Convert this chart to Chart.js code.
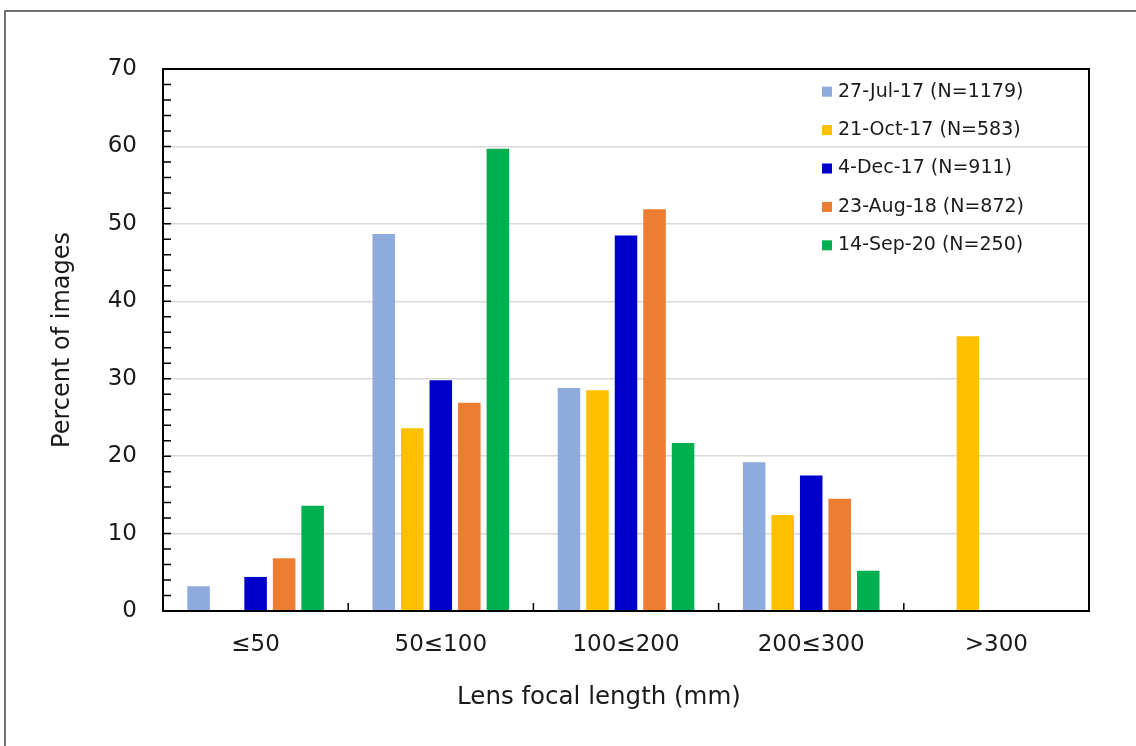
<!DOCTYPE html>
<html>
<head>
<meta charset="utf-8">
<script src="https://cdn.jsdelivr.net/npm/chart.js@4"></script>
<style>
  body { margin: 0; background: #fff; }
  canvas { display: block; }
</style>
</head>
<body>
<canvas id="lensChart" width="1136" height="746"></canvas>
<script>
const categories = ['≤50', '50≤100', '100≤200', '200≤300', '>300'];
const seriesLabels = ['27-Jul-17 (N=1179)', '21-Oct-17 (N=583)', '4-Dec-17 (N=911)', '23-Aug-18 (N=872)', '14-Sep-20 (N=250)'];
const jul17 = [3.2, 48.7, 28.8, 19.2, 0];
const oct17 = [0, 23.6, 28.5, 12.4, 35.5];
const dec17 = [4.4, 29.8, 48.5, 17.5, 0];
const aug18 = [6.8, 26.9, 51.9, 14.5, 0];
const sep20 = [13.6, 59.7, 21.7, 5.2, 0];
const yTicks = [0, 10, 20, 30, 40, 50, 60, 70];
const xTitle = 'Lens focal length (mm)';

const colors = ['#8FAADC', '#FFC000', '#0000CC', '#ED7D31', '#00B050'];

Chart.defaults.font.family = 'DejaVu Sans';
Chart.defaults.color = '#1a1a1a';

// frame, inward ticks, plot border, x title and the legend inside the plot
const decorations = {
    id: 'decorations',
    beforeDraw(chart) {
        const ctx = chart.ctx;
        ctx.save();
        ctx.fillStyle = '#fff';
        ctx.fillRect(0, 0, chart.width, chart.height);
        ctx.strokeStyle = '#444';
        ctx.lineWidth = 1.5;
        ctx.beginPath();
        ctx.moveTo(5, chart.height);
        ctx.lineTo(5, 11);
        ctx.lineTo(chart.width, 11);
        ctx.stroke();
        ctx.restore();
    },
    afterDraw(chart) {
        const ctx = chart.ctx;
        const a = chart.chartArea;
        const x = chart.scales.x;
        const y = chart.scales.y;
        ctx.save();
        ctx.strokeStyle = '#000';
        ctx.lineWidth = 1.5;
        ctx.beginPath();
        for (let v = 0; v <= 70; v += 2) {
            const py = y.getPixelForValue(v);
            ctx.moveTo(a.left, py);
            ctx.lineTo(a.left + 8, py);
        }
        for (let i = 0; i < categories.length - 1; i++) {
            const px = (x.getPixelForTick(i) + x.getPixelForTick(i + 1)) / 2;
            ctx.moveTo(px, a.bottom);
            ctx.lineTo(px, a.bottom - 8);
        }
        ctx.stroke();
        ctx.lineWidth = 2;
        ctx.strokeRect(a.left, a.top, a.right - a.left, a.bottom - a.top);

        ctx.fillStyle = '#1a1a1a';
        ctx.textAlign = 'center';
        ctx.textBaseline = 'middle';
        ctx.font = '24.5px "DejaVu Sans"';
        ctx.fillText(xTitle, (a.left + a.right) / 2 - 27, 698);

        ctx.font = '19px "DejaVu Sans"';
        ctx.textAlign = 'left';
        const lx = a.right - 267;
        chart.data.datasets.forEach((ds, i) => {
            const cy = a.top + 22.7 + i * 38.4;
            ctx.fillStyle = ds.backgroundColor;
            ctx.fillRect(lx, cy - 5, 10, 10);
            ctx.fillStyle = '#1a1a1a';
            ctx.fillText(ds.label, lx + 16, cy);
        });
        ctx.restore();
    }
};

const seriesData = [jul17, oct17, dec17, aug18, sep20];

new Chart(document.getElementById('lensChart'), {
    type: 'bar',
    data: {
        labels: categories,
        datasets: seriesData.map((d, i) => ({
            label: seriesLabels[i],
            data: d,
            backgroundColor: colors[i],
            categoryPercentage: 0.77,
            barPercentage: 0.79
        }))
    },
    options: {
        responsive: false,
        animation: false,
        layout: { padding: { top: 69, right: 47, left: 0, bottom: 0 } },
        plugins: { legend: { display: false }, tooltip: { enabled: false } },
        scales: {
            x: {
                grid: { display: false, drawTicks: false },
                border: { display: false },
                ticks: { font: { size: 23 }, padding: 20 },
                afterFit(scale) { scale.height = 135; }
            },
            y: {
                min: 0,
                max: 70,
                afterBuildTicks(scale) { scale.ticks = yTicks.map(v => ({ value: v })); },
                grid: { color: '#D9D9D9', lineWidth: 1.5, drawTicks: false },
                border: { display: false },
                ticks: { font: { size: 23 }, padding: 26 },
                title: {
                    display: true,
                    text: 'Percent of images',
                    font: { size: 24 },
                    padding: { top: 48, bottom: 0 }
                },
                afterFit(scale) { scale.width = 163; }
            }
        }
    },
    plugins: [decorations]
});
</script>
</body>
</html>
